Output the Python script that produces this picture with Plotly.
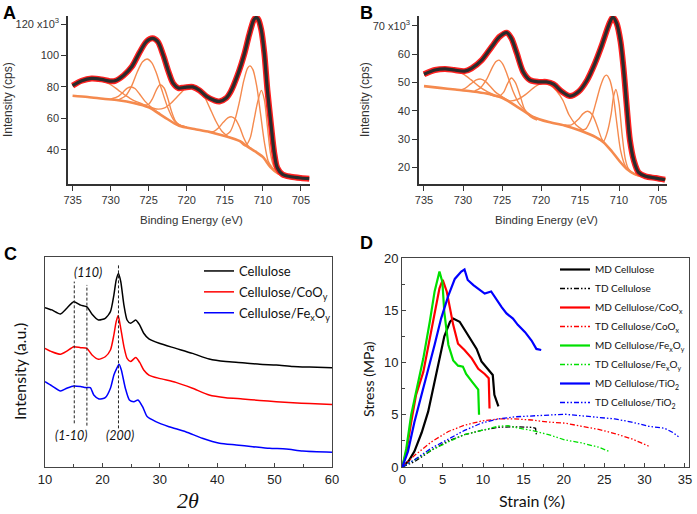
import plotly.graph_objects as go

# ---------------- Panel A (XPS, Cellulose/Fe) ----------------
A_env_x = [735, 733.8, 732.5, 731.2, 730.1, 729.4, 728.3, 727.2, 726.2, 725.3, 724.5, 723.8, 723.1, 722.4, 721.8,
           721.1, 720.3, 719.2, 718.3, 717.4, 716.3, 715.7, 714.8, 714.2, 713.3, 712.4, 711.8, 711.2, 710.9, 710.6,
           710.2, 709.8, 709.4, 708.9, 708.5, 708.1, 707.4, 706.3, 705.0, 703.9]
A_env_y = [80.8, 83.9, 85.4, 84.8, 83.7, 83.9, 87.3, 93.0, 101.9, 108.8, 110.9, 108.8, 100.4, 89.8, 82.4,
           79.3, 79.7, 80.0, 77.8, 74.0, 71.3, 70.8, 73.0, 77.2, 87.7, 101.4, 113.0, 122.5, 124.2, 123.0,
           116.2, 101.4, 78.2, 55.0, 38.1, 28.6, 24.4, 22.9, 22.1, 21.7]
A_bg_x = [735, 733, 731, 729, 727, 725, 723, 721, 719, 717, 715, 713, 712, 711, 710, 709, 708, 707, 706, 704]
A_bg_y = [74.4, 73.6, 72.5, 71.5, 69.8, 67.0, 61.0, 55.3, 53.3, 51.4, 48.8, 45.5, 42.0, 39.0, 35.5, 29.0, 25.0, 23.0, 22.3, 21.7]
A_c1_x = [735, 734, 733, 732, 731, 730, 729, 728, 727, 726, 725]
A_c1_y = [80.5, 82.5, 84.0, 84.3, 83.5, 81.5, 78.0, 74.5, 71.5, 69.5, 67.0]
A_c2_x = [730, 729, 728.3, 727.8, 727.3, 726.8, 726.2, 725.5, 724.5, 723.5]
A_c2_y = [72.3, 74.0, 77.0, 79.3, 80.0, 79.0, 75.5, 71.0, 66.5, 63.0]
A_c3_x = [729, 728, 727.2, 726.5, 725.8, 725.2, 724.6, 724.0, 723.3, 722.5, 721.7, 721.0, 720.0]
A_c3_y = [71.6, 74.5, 81.0, 89.5, 96.0, 97.8, 95.5, 89.0, 78.5, 67.0, 59.0, 56.0, 54.3]
A_c4_x = [726.5, 725.5, 725.0, 724.5, 724.0, 723.5, 723.0, 722.5, 722.0, 721.5, 721.0, 720.0]
A_c4_y = [69.0, 68.5, 69.0, 72.5, 78.0, 81.4, 79.5, 73.0, 64.5, 58.5, 56.0, 54.3]
A_c5_x = [727, 726, 725, 724, 723, 722, 721, 720.2, 719.4, 718.6, 717.8, 717.0, 716.2, 715.4, 714.6]
A_c5_y = [70.0, 68.8, 67.5, 66.0, 66.5, 70.0, 75.0, 78.8, 80.0, 79.0, 75.0, 67.0, 58.5, 52.0, 48.5]
A_c6_x = [717.5, 716.5, 715.8, 715.2, 714.6, 714.1, 713.6, 713.0, 712.5, 712.0, 711.5]
A_c6_y = [52.0, 51.6, 54.0, 57.5, 60.3, 61.0, 59.5, 54.0, 47.5, 43.0, 40.8]
A_c7_x = [715.0, 714.3, 713.7, 713.1, 712.5, 712.0, 711.7, 711.3, 710.8, 710.3, 709.8, 709.3, 708.8, 708.2, 707.5]
A_c7_y = [49.0, 51.5, 58.5, 70.0, 84.0, 92.0, 93.4, 91.0, 80.5, 63.0, 45.0, 33.0, 29.0, 25.8, 23.6]
A_c8_x = [713.0, 712.3, 711.7, 711.2, 710.7, 710.2, 709.8, 709.4, 709.0, 708.6, 708.0, 707.3]
A_c8_y = [45.3, 42.5, 47.0, 58.0, 70.0, 77.8, 72.0, 55.0, 38.0, 30.0, 25.5, 23.3]

# ---------------- Panel B (XPS, Cellulose/Co) ----------------
B_env_x = [735, 733.6, 732.3, 731.1, 729.8, 728.9, 727.6, 726.3, 725.3, 724.4, 723.8, 723.1, 722.3, 721.4, 720.3,
           719.3, 718.4, 717.3, 716.3, 715.2, 714.1, 713.1, 712.2, 711.3, 710.8, 710.3, 709.8, 709.4, 709.0, 708.6,
           708.1, 707.5, 706.6, 705.3, 704.1]
B_env_y = [52.9, 54.4, 54.8, 54.4, 54.0, 55.0, 57.9, 62.7, 66.2, 67.6, 65.6, 60.3, 53.8, 50.8, 50.2,
           50.2, 49.4, 46.7, 45.2, 46.7, 50.8, 56.7, 63.2, 70.4, 73.1, 70.9, 64.4, 54.4, 41.3, 29.5,
           22.4, 18.2, 16.8, 16.2, 15.6]
B_bg_x = [735, 733, 731, 729, 727, 725, 723, 721, 719, 717, 715, 713, 712, 711, 710, 709, 708, 707, 706, 704]
B_bg_y = [48.7, 48.1, 47.5, 46.9, 46.1, 44.6, 41.3, 37.8, 36.0, 34.8, 33.0, 30.7, 28.9, 25.9, 22.4, 19.4, 17.6, 16.8, 16.4, 15.8]
B_c1_x = [735, 734, 733, 732, 731, 730, 729, 728, 727, 726]
B_c1_y = [52.6, 53.6, 54.3, 54.6, 54.2, 53.0, 51.0, 48.7, 46.9, 45.6]
B_c2_x = [730.5, 729.8, 729.0, 728.3, 727.7, 727.1, 726.5, 725.8, 725.0, 724.2]
B_c2_y = [47.3, 47.8, 49.5, 50.9, 51.2, 50.3, 48.6, 46.5, 45.0, 43.5]
B_c3_x = [728.5, 727.8, 727.0, 726.3, 725.8, 725.4, 724.9, 724.3, 723.6, 722.8, 722.0, 721.2, 720.2]
B_c3_y = [47.0, 48.0, 51.0, 55.0, 57.3, 57.9, 56.5, 52.5, 47.0, 42.5, 40.0, 38.2, 36.9]
B_c4_x = [726.5, 725.5, 724.8, 724.3, 723.8, 723.3, 722.7, 722.1, 721.4, 720.5]
B_c4_y = [45.6, 45.0, 46.5, 49.5, 51.6, 50.0, 45.5, 40.5, 38.0, 36.7]
B_c5_x = [727, 726, 725, 724, 723, 722, 721, 720.2, 719.6, 718.8, 718.0, 717.2, 716.4, 715.5, 714.5]
B_c5_y = [46.3, 45.4, 44.6, 43.5, 44.0, 45.7, 48.0, 49.4, 49.6, 49.0, 47.0, 43.7, 38.5, 35.0, 33.0]
B_c6_x = [717.0, 716.1, 715.2, 714.6, 714.0, 713.4, 712.8, 712.2, 711.6]
B_c6_y = [35.0, 35.0, 37.0, 39.0, 39.8, 38.5, 34.5, 30.0, 27.8]
B_c7_x = [715.0, 714.3, 713.6, 713.0, 712.4, 711.9, 711.6, 711.2, 710.8, 710.3, 709.8, 709.2, 708.6, 708.0, 707.3]
B_c7_y = [33.2, 33.5, 37.0, 42.5, 48.5, 52.0, 52.6, 51.0, 46.5, 36.0, 26.0, 20.5, 18.6, 17.6, 16.9]
B_c8_x = [712.6, 712.0, 711.5, 711.0, 710.7, 710.4, 710.0, 709.6, 709.2, 708.8, 708.2, 707.5]
B_c8_y = [29.9, 29.2, 32.5, 39.0, 45.0, 47.5, 42.5, 31.5, 23.0, 19.5, 17.8, 17.0]

XPS_ticks = [735, 730, 725, 720, 715, 710, 705]
A_yticks = [40, 60, 80, 100, 120]
A_ytext = ["40", "60", "80", "100", "120 x10<sup>3</sup>"]
B_yticks = [20, 30, 40, 50, 60, 70]
B_ytext = ["20", "30", "40", "50", "60", "70 x10<sup>3</sup>"]

# ---------------- Panel C (XRD) ----------------
C_cel_x = [10.0, 11.2, 12.7, 13.8, 15.0, 16.2, 17.3, 18.2, 19.3, 20.5, 21.4, 22.0, 22.4, 22.8, 23.2, 23.75, 24.3, 24.9,
           25.8, 26.5, 27.2, 28.1, 29.9, 32.8, 35.7, 38.6, 41.5, 44.4, 47.4, 50.3, 53.2, 56.1, 60.0]
C_cel_y = [75.9, 74.8, 72.9, 75.6, 78.7, 77.1, 76.3, 72.7, 70.0, 70.8, 74.0, 81.9, 89.0, 92.2, 88.3, 77.1, 70.0, 68.4,
           70.0, 67.6, 63.7, 61.0, 58.9, 56.5, 54.1, 51.4, 50.2, 49.7, 48.9, 48.6, 47.9, 47.6, 47.3]
C_co_x = [10.0, 11.2, 12.7, 13.8, 15.0, 16.2, 17.3, 18.2, 19.3, 20.5, 21.4, 22.0, 22.4, 22.75, 23.1, 23.75, 24.3, 24.9,
          25.8, 26.5, 27.2, 28.1, 29.9, 32.8, 35.7, 38.6, 41.5, 44.4, 47.4, 50.3, 53.2, 56.1, 60.0]
C_co_y = [56.5, 54.9, 53.7, 55.2, 57.3, 56.8, 56.5, 53.3, 51.3, 52.5, 55.7, 62.9, 69.2, 72.1, 67.6, 57.3, 51.7, 50.2,
          52.1, 49.8, 46.2, 43.8, 42.2, 40.3, 37.5, 34.3, 33.0, 32.4, 31.7, 31.1, 30.6, 30.2, 29.8]
C_fe_x = [10.0, 11.2, 12.7, 13.8, 15.0, 16.2, 17.1, 17.9, 18.5, 19.4, 20.5, 21.4, 22.0, 22.5, 22.9, 23.3, 24.0, 24.7,
          25.5, 26.2, 27.0, 27.8, 29.3, 31.6, 34.5, 37.4, 40.4, 43.3, 46.2, 49.1, 52.0, 54.9, 60.0]
C_fe_y = [40.6, 38.6, 36.2, 37.5, 38.6, 38.3, 37.8, 37.8, 34.3, 32.4, 33.0, 37.5, 43.8, 47.0, 48.9, 46.2, 37.5, 31.9,
          31.1, 31.9, 28.7, 24.0, 21.6, 19.2, 16.8, 13.7, 11.3, 10.5, 9.7, 8.9, 8.6, 7.6, 7.0]
C_ref_x = [15.1, 17.3, 22.8]
C_ref_top = [88.3, 86.7, 96.2]
C_ref_bot = [20.8, 19.7, 18.4]
C_ref_labels = ["(1-10)", "(110)", "(200)"]
C_names = ["Cellulose", "Cellulose/CoO<sub>y</sub>", "Cellulose/Fe<sub>x</sub>O<sub>y</sub>"]

# ---------------- Panel D (tensile) ----------------
D_md_cel_x = [0, 0.8, 1.5, 2.4, 3.2, 3.8, 4.4, 5.2, 5.9, 6.3, 7.1, 7.9, 8.6, 9.2, 9.8, 10.6, 11.2, 11.4, 11.9]
D_md_cel_y = [0, 0.6, 1.5, 3.3, 5.3, 7.5, 9.7, 12.5, 13.9, 14.2, 13.9, 12.9, 12.1, 11.3, 10.1, 9.3, 8.8, 6.9, 5.8]
D_td_cel_x = [0, 1.5, 3.6, 5.7, 7.7, 9.8, 11.9, 13.9, 16.0, 16.5, 16.6]
D_td_cel_y = [0, 0.5, 1.6, 2.5, 3.1, 3.5, 3.8, 3.85, 3.8, 3.7, 3.1]
D_md_co_x = [0, 0.5, 1.1, 1.7, 2.6, 3.4, 4.0, 4.6, 5.0, 5.5, 5.9, 6.3, 6.9, 7.7, 8.6, 9.4, 10.2, 10.7, 10.8]
D_md_co_y = [0, 1.5, 4.3, 6.9, 9.1, 12.3, 14.8, 17.1, 17.9, 16.8, 15.2, 13.6, 11.8, 11.2, 10.4, 9.4, 8.9, 8.5, 5.6]
D_td_co_x = [0, 1.5, 3.6, 5.7, 7.7, 9.8, 11.9, 13.9, 16.0, 18.1, 20.1, 22.2, 24.3, 26.3, 28.4, 29.6, 30.5]
D_td_co_y = [0, 1.1, 2.4, 3.4, 4.0, 4.4, 4.6, 4.6, 4.5, 4.3, 4.2, 3.9, 3.6, 3.2, 2.7, 2.3, 2.0]
D_md_fe_x = [0, 0.5, 1.1, 1.7, 2.6, 3.4, 4.0, 4.6, 4.96, 5.2, 5.7, 6.3, 6.9, 7.5, 7.9, 8.6, 9.4, 9.5]
D_md_fe_y = [0, 1.8, 5.0, 7.2, 10.4, 13.9, 16.8, 18.7, 17.7, 14.8, 11.7, 10.2, 9.7, 9.6, 8.9, 8.2, 7.4, 5.0]
D_td_fe_x = [0, 1.5, 3.6, 5.7, 7.7, 9.8, 11.9, 13.1, 13.9, 16.0, 18.1, 20.1, 22.2, 24.3, 25.6]
D_td_fe_y = [0, 0.7, 1.6, 2.4, 3.1, 3.5, 3.9, 3.95, 3.8, 3.5, 3.1, 2.6, 2.3, 1.9, 1.5]
D_md_ti_x = [0, 0.7, 1.5, 2.4, 3.2, 4.0, 4.8, 5.7, 6.5, 7.3, 7.7, 8.1, 8.8, 9.6, 10.2, 11.0, 11.4, 12.3, 12.9, 13.7,
             14.3, 15.2, 16.0, 16.6, 17.2]
D_md_ti_y = [0, 1.5, 4.3, 6.9, 9.4, 11.7, 14.2, 16.4, 18.0, 18.7, 18.9, 17.9, 17.4, 16.9, 16.6, 16.8, 16.3, 15.3, 14.7,
             14.2, 13.6, 12.9, 12.1, 11.3, 11.2]
D_td_ti_x = [0, 1.5, 3.6, 5.7, 7.7, 9.8, 11.9, 13.9, 16.0, 18.1, 20.1, 22.2, 24.3, 26.3, 28.4, 30.5, 32.5, 33.5, 34.2]
D_td_ti_y = [0, 0.7, 1.8, 2.7, 3.5, 4.2, 4.6, 4.8, 4.9, 5.0, 5.05, 4.9, 4.75, 4.6, 4.3, 3.9, 3.7, 3.3, 2.9]

W, H = 697, 514
def PX(v): return v / W
def PY(v): return 1 - v / H

ORANGE = "#F58A4E"
DARK = "#333333"
SANS = "Liberation Sans, Arial, sans-serif"
CAL = "Lato, Liberation Sans, sans-serif"

fig = go.Figure()

def add_xps(xa, ya, env_x, env_y, bg_x, bg_y, comps):
    fig.add_trace(go.Scatter(x=bg_x, y=bg_y, mode="lines", xaxis=xa, yaxis=ya, showlegend=False,
                             line=dict(color=ORANGE, width=2.6, shape="spline", smoothing=0.8)))
    for cx, cy in comps:
        fig.add_trace(go.Scatter(x=cx, y=cy, mode="lines", xaxis=xa, yaxis=ya, showlegend=False,
                                 line=dict(color=ORANGE, width=1.4, shape="spline", smoothing=0.8)))
    fig.add_trace(go.Scatter(x=env_x, y=env_y, mode="lines", xaxis=xa, yaxis=ya, showlegend=False,
                             line=dict(color="#FF2020", width=6, shape="spline", smoothing=0.8)))
    fig.add_trace(go.Scatter(x=env_x, y=env_y, mode="lines", xaxis=xa, yaxis=ya, showlegend=False,
                             line=dict(color="#2B2B2B", width=3.2, shape="spline", smoothing=0.8)))

add_xps("x", "y", A_env_x, A_env_y, A_bg_x, A_bg_y,
        [(A_c1_x, A_c1_y), (A_c2_x, A_c2_y), (A_c3_x, A_c3_y), (A_c4_x, A_c4_y),
         (A_c5_x, A_c5_y), (A_c6_x, A_c6_y), (A_c7_x, A_c7_y), (A_c8_x, A_c8_y)])
add_xps("x2", "y2", B_env_x, B_env_y, B_bg_x, B_bg_y,
        [(B_c1_x, B_c1_y), (B_c2_x, B_c2_y), (B_c3_x, B_c3_y), (B_c4_x, B_c4_y),
         (B_c5_x, B_c5_y), (B_c6_x, B_c6_y), (B_c7_x, B_c7_y), (B_c8_x, B_c8_y)])

# Panel C
for i, (xs, ys, col, nm) in enumerate([(C_cel_x, C_cel_y, "#000000", C_names[0]),
                                       (C_co_x, C_co_y, "#FF0000", C_names[1]),
                                       (C_fe_x, C_fe_y, "#0000FF", C_names[2])]):
    fig.add_trace(go.Scatter(x=xs, y=ys, mode="lines", xaxis="x3", yaxis="y3", name=nm, legend="legend",
                             legendgroup="c%d" % i,
                             line=dict(color=col, width=1.5, shape="spline", smoothing=0.6)))
for rx, rt, rb in zip(C_ref_x, C_ref_top, C_ref_bot):
    fig.add_trace(go.Scatter(x=[rx, rx], y=[rb, rt], mode="lines", xaxis="x3", yaxis="y3", showlegend=False,
                             line=dict(color="#222222", width=1, dash="3px,2px")))

# Panel D
TDDASH = "5px,2px,1.5px,2px,1.5px,2px"
D_series = [
    (D_md_cel_x, D_md_cel_y, "#000000", "solid", 2.2, "MD Cellulose"),
    (D_td_cel_x, D_td_cel_y, "#000000", TDDASH, 1.3, "TD Cellulose"),
    (D_md_co_x, D_md_co_y, "#FF0000", "solid", 2.2, "MD Cellulose/CoO<sub>x</sub>"),
    (D_td_co_x, D_td_co_y, "#FF0000", TDDASH, 1.3, "TD Cellulose/CoO<sub>x</sub>"),
    (D_md_fe_x, D_md_fe_y, "#00E000", "solid", 2.2, "MD Cellulose/Fe<sub>x</sub>O<sub>y</sub>"),
    (D_td_fe_x, D_td_fe_y, "#00E000", TDDASH, 1.3, "TD Cellulose/Fe<sub>x</sub>O<sub>y</sub>"),
    (D_md_ti_x, D_md_ti_y, "#0000FF", "solid", 2.2, "MD Cellulose/TiO<sub>2</sub>"),
    (D_td_ti_x, D_td_ti_y, "#0000FF", TDDASH, 1.3, "TD Cellulose/TiO<sub>2</sub>"),
]
for i, (xs, ys, col, dash, w, nm) in enumerate(D_series):
    fig.add_trace(go.Scatter(x=xs, y=ys, mode="lines", xaxis="x4", yaxis="y4", name=nm, legend="legend2",
                             line=dict(color=col, width=w, dash=dash)))

ax_ab = dict(showline=True, linecolor=DARK, linewidth=1.5, ticks="outside", ticklen=5, tickwidth=1.2,
             tickcolor=DARK, showgrid=False, zeroline=False, tickfont=dict(family=SANS, size=11, color=DARK))
ax_cd = dict(showline=True, mirror=True, linecolor="#444444", linewidth=1, ticks="inside", ticklen=4,
             tickwidth=1, tickcolor="#444444", showgrid=False, zeroline=False,
             tickfont=dict(family=SANS, size=13, color="#222222"))

fig.update_layout(
    width=W, height=H, margin=dict(l=0, r=0, t=0, b=0, autoexpand=False),
    paper_bgcolor="white", plot_bgcolor="white",
    xaxis=dict(ax_ab, domain=[PX(68), PX(310)], range=[735.6, 703.8], anchor="y",
               tickvals=XPS_ticks),
    yaxis=dict(ax_ab, domain=[PY(184), PY(16)], range=[18.3, 125.1], anchor="x",
               tickvals=A_yticks, ticktext=A_ytext),
    xaxis2=dict(ax_ab, domain=[PX(419), PX(667)], range=[735.64, 703.85], anchor="y2",
                tickvals=XPS_ticks),
    yaxis2=dict(ax_ab, domain=[PY(184), PY(16)], range=[14.1, 73.5], anchor="x2",
                tickvals=B_yticks, ticktext=B_ytext),
    xaxis3=dict(ax_cd, domain=[PX(45), PX(332)], range=[10, 60], anchor="y3",
                tickvals=[10, 20, 30, 40, 50, 60],
                minor=dict(tickvals=[15, 25, 35, 45, 55], ticks="inside", ticklen=3, tickcolor="#444444")),
    yaxis3=dict(ax_cd, domain=[PY(467), PY(257)], range=[0, 100], anchor="x3", showticklabels=False,
                ticks=""),
    xaxis4=dict(ax_cd, domain=[PX(402), PX(689)], range=[-0.04, 35.5], anchor="y4",
                tickvals=[0, 5, 10, 15, 20, 25, 30, 35],
                minor=dict(dtick=2.5, ticks="inside", ticklen=3, tickcolor="#444444")),
    yaxis4=dict(ax_cd, domain=[PY(467), PY(258)], range=[0, 20], anchor="x4",
                tickvals=[0, 5, 10, 15, 20],
                minor=dict(dtick=2.5, ticks="inside", ticklen=3, tickcolor="#444444")),
    legend=dict(x=PX(199), y=PY(256), xanchor="left", yanchor="top", bgcolor="rgba(0,0,0,0)",
                font=dict(family=CAL, size=13, color="#111111"), itemwidth=30, tracegroupgap=1,
                itemclick=False),
    legend2=dict(x=PX(555), y=PY(255), xanchor="left", yanchor="top", bgcolor="rgba(0,0,0,0)",
                 font=dict(family=CAL, size=10, color="#111111"),
                 itemwidth=30, tracegroupgap=0, itemclick=False),
)

ann = []
def T(x, y, text, size, family=SANS, angle=0, color=DARK, xref="paper", yref="paper", **kw):
    ann.append(dict(x=x, y=y, xref=xref, yref=yref, text=text, showarrow=False, textangle=angle,
                    font=dict(family=family, size=size, color=color), xanchor="center", yanchor="middle", **kw))

# panel letters
T(PX(9), PY(12.5), "<b>A</b>", 18, color="#000")
T(PX(366), PY(12.5), "<b>B</b>", 18, color="#000")
T(PX(10), PY(254), "<b>C</b>", 18, color="#000")
T(PX(366), PY(243), "<b>D</b>", 18, color="#000")
# axis titles
T(PX(8), PY(100), "Intensity (cps)", 12, angle=-90)
T(PX(191), PY(220), "Binding Energy (eV)", 11.5)
T(PX(365), PY(100), "Intensity (cps)", 12, angle=-90)
T(PX(546), PY(220), "Binding Energy (eV)", 11.5)
T(PX(19), PY(372), "Intensity (a.u.)", 16, family=CAL, angle=-90, color="#111")
T(PX(188), PY(500), "<i>2θ</i>", 22, family="Liberation Serif, DejaVu Serif, serif", color="#111")
T(PX(368), PY(379), "Stress (MPa)", 14, family=CAL, angle=-90, color="#111")
T(PX(532), PY(500), "Strain (%)", 16, family=CAL, color="#111")
# XRD reflection labels (data coords)
for lx, ly, lt in [(14.7, 14.9, C_ref_labels[0]), (17.5, 92.7, C_ref_labels[1]), (23.05, 15.2, C_ref_labels[2])]:
    T(lx, ly, "<i>" + lt + "</i>", 12.5, family=CAL, color="#111", xref="x3", yref="y3")

fig.update_layout(annotations=ann)
fig.write_html("out.html", config={"displayModeBar": False},
               post_script="document.body.style.margin='0px';document.body.style.padding='0px';")
